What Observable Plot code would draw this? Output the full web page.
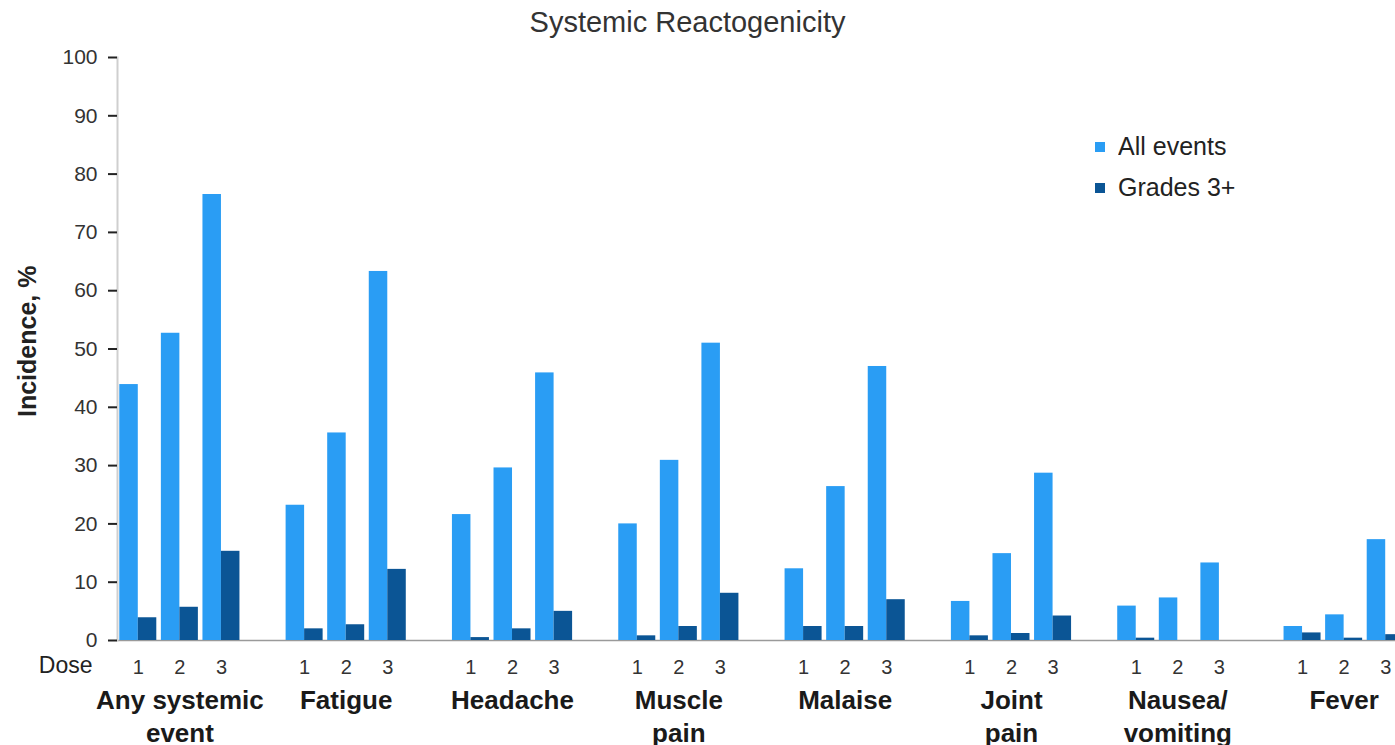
<!DOCTYPE html>
<html>
<head>
<meta charset="utf-8">
<script src="https://cdn.jsdelivr.net/npm/d3@7"></script>
<script src="https://cdn.jsdelivr.net/npm/@observablehq/plot@0.6"></script>
<style>
  html, body { margin: 0; padding: 0; background: #fff; overflow: hidden; width: 1395px; height: 745px; }
  body { font-family: "Liberation Sans", Arial, sans-serif; position: relative; }
  #title { height: 45px; line-height: 45px; width: 1375px; text-align: center; font-size: 29px; color: #333; }
  #chart svg { max-width: none !important; display: block; }
  #legend { position: absolute; left: 1095px; top: 126px; }
  #legend > div { margin: 0 !important; font-family: "Liberation Sans", Arial, sans-serif !important; font-size: 25px !important; color: #222 !important; }
  #legend > div > div { height: 41px; padding: 0 !important; display: flex; align-items: center; }
  #legend svg { margin-right: 13px !important; }
</style>
</head>
<body>
<div id="title">Systemic Reactogenicity</div>
<div id="chart"></div>
<div id="legend"></div>
<script>
// ---- data ----
const categories = ["Any systemic event", "Fatigue", "Headache", "Muscle pain", "Malaise", "Joint pain", "Nausea/vomiting", "Fever"];
const categoryLabels = ["Any systemic\nevent", "Fatigue", "Headache", "Muscle\npain", "Malaise", "Joint\npain", "Nausea/\nvomiting", "Fever"];
const doses = ["1", "2", "3"];
const seriesNames = ["All events", "Grades 3+"];
const seriesColors = ["#2a9df4", "#0b5595"];
// incidence (%) per category, dose 1..3
const allEvents = [
  [43.9, 52.7, 76.5],
  [23.2, 35.6, 63.3],
  [21.6, 29.6, 45.9],
  [20.0, 30.9, 51.0],
  [12.3, 26.4, 47.0],
  [6.7, 14.9, 28.7],
  [5.9, 7.3, 13.3],
  [2.4, 4.4, 17.3]
];
const grades3 = [
  [3.9, 5.7, 15.3],
  [2.0, 2.7, 12.2],
  [0.5, 2.0, 5.0],
  [0.8, 2.4, 8.1],
  [2.4, 2.4, 7.0],
  [0.8, 1.2, 4.2],
  [0.4, 0, 0],
  [1.3, 0.4, 1.0]
];
const yTicks = [0, 10, 20, 30, 40, 50, 60, 70, 80, 90, 100];

// ---- table built from the arrays ----
const keyOf = (c, d) => c + "|" + d;
const xDomain = [];
categories.forEach((c, i) => {
  doses.forEach(d => xDomain.push(keyOf(c, d)));
  if (i < categories.length - 1) xDomain.push(c + "|gap");
});
const doseKeys = categories.flatMap(c => doses.map(d => keyOf(c, d)));
const midKeys = categories.map(c => keyOf(c, doses[1]));

const rows = [];
categories.forEach((c, i) => doses.forEach((d, j) => {
  rows.push({category: c, dose: d, key: keyOf(c, d), series: seriesNames[0], value: allEvents[i][j]});
  rows.push({category: c, dose: d, key: keyOf(c, d), series: seriesNames[1], value: grades3[i][j]});
}));

// ---- layout ----
const width = 1406, marginLeft = 117, marginRight = 0;
const paddingInner = 0.11, paddingOuter = 0.055;
const step = (width - marginLeft - marginRight) / (xDomain.length - paddingInner + 2 * paddingOuter);
const half = step * (1 - paddingInner) / 2;
const font = "'Liberation Sans', Arial, sans-serif";

const chart = Plot.plot({
  width, height: 700,
  marginLeft, marginRight, marginTop: 12, marginBottom: 105,
  style: {fontFamily: font, background: "transparent", overflow: "visible"},
  x: {type: "band", domain: xDomain, paddingInner, paddingOuter, round: false},
  y: {domain: [0, 100]},
  color: {domain: seriesNames, range: seriesColors},
  marks: [
    Plot.ruleY([0], {stroke: "#9a9a9a", strokeWidth: 1.5}),
    Plot.barY(rows.filter(d => d.series === seriesNames[0]), {x: "key", y: "value", fill: "series", insetRight: half}),
    Plot.barY(rows.filter(d => d.series === seriesNames[1]), {x: "key", y: "value", fill: "series", insetLeft: half}),
    Plot.frame({anchor: "left", stroke: "#cfcfcf", strokeWidth: 2}),
    Plot.axisY({ticks: yTicks, tickSize: 9, tickPadding: 11, strokeWidth: 2, stroke: "#222", fill: "#333", fontSize: 21, label: null}),
    Plot.axisX({ticks: doseKeys, tickFormat: k => k.split("|")[1], tickSize: 0, tickPadding: 19, fontSize: 20, fill: "#333", label: null}),
    Plot.axisX({ticks: midKeys, tickFormat: k => categoryLabels[categories.indexOf(k.split("|")[0])],
      tickSize: 0, tickPadding: 45, fontSize: 26, fontWeight: "bold", lineHeight: 1.27, fill: "#1a1a1a", label: null}),
    Plot.text(["Dose"], {text: d => d, frameAnchor: "bottom-left", textAnchor: "end", lineAnchor: "top", dx: -25, dy: 16, fontSize: 23, fill: "#222"}),
    Plot.text(["Incidence, %"], {text: d => d, frameAnchor: "left", rotate: -90, dx: -90, dy: 68, fontSize: 25, fontWeight: "bold", fill: "#222"})
  ]
});
document.getElementById("chart").append(chart);

const legend = chart.legend("color", {columns: 1, swatchSize: 10});
document.getElementById("legend").append(legend);
</script>
</body>
</html>
